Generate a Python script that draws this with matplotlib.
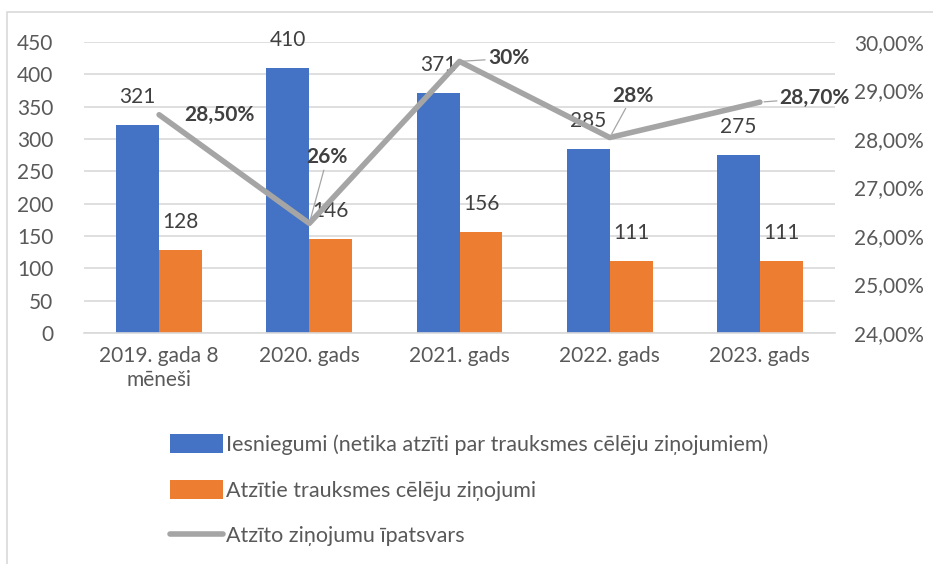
import numpy as np
import matplotlib
matplotlib.use('Agg')
import matplotlib.pyplot as plt
from matplotlib.patches import Rectangle

plt.rcParams['font.family'] = ['Lato', 'DejaVu Sans']

# --- data ---
categories = ['2019. gada 8\nmēneši', '2020. gads', '2021. gads', '2022. gads', '2023. gads']
iesniegumi = [321, 410, 371, 285, 275]
atzitie = [128, 146, 156, 111, 111]
ipatsvars = [0.285, 0.2626, 0.296, 0.2803, 0.2876]
ipatsvars_labels = ['28,50%', '26%', '30%', '28%', '28,70%']
# where each percentage label sits relative to its point (pixels)
label_offsets = [(60, 0), (18, 66), (49, 3), (23, 42), (55, 4)]
show_leader = [False, True, True, True, True]

BLUE = '#4472C4'
ORANGE = '#ED7D31'
GREY = '#A5A5A5'
TXT = '#595959'
LBL = '#404040'
FS = 15

fig = plt.figure(figsize=(9.33, 5.64), dpi=100)
ax = fig.add_axes([84/933, 1 - 333/564, (835 - 84)/933, (333 - 42)/564])
ax2 = ax.twinx()

x = np.arange(len(categories))
w = 0.286
b1 = ax.bar(x - w/2, iesniegumi, w, color=BLUE, label='Iesniegumi (netika atzīti par trauksmes cēlēju ziņojumiem)', zorder=2)
b2 = ax.bar(x + w/2, atzitie, w, color=ORANGE, label='Atzītie trauksmes cēlēju ziņojumi', zorder=2)

for bars, vals in ((b1, iesniegumi), (b2, atzitie)):
    for r, v in zip(bars, vals):
        ax.annotate(str(v), (r.get_x() + r.get_width()/2, v), xytext=(0, 28),
                    textcoords='offset pixels', ha='center', va='center',
                    fontsize=FS, color=LBL)

ax.set_xlim(-0.5, len(categories) - 0.5)
ax.set_ylim(0, 450)
ax.set_yticks(np.arange(0, 451, 50))
ax.set_xticks(x)
ax.set_xticklabels(categories, fontsize=FS, color=TXT, linespacing=1.25)
ax.tick_params(axis='y', labelsize=FS, colors=TXT, length=0, pad=22)
ax.tick_params(axis='x', length=0, pad=9)
ax.grid(axis='y', color='#D9D9D9', lw=1.2, zorder=0)
ax.set_axisbelow(True)
for s in ['top', 'right', 'left']:
    ax.spines[s].set_visible(False)
ax.spines['bottom'].set_color('#D9D9D9')
ax.spines['bottom'].set_linewidth(1.2)

ln, = ax2.plot(x, ipatsvars, color=GREY, lw=4.0, solid_capstyle='round',
               solid_joinstyle='round', label='Atzīto ziņojumu īpatsvars', zorder=3)
ax2.set_ylim(0.24, 0.30)
ticks2 = np.arange(0.24, 0.3001, 0.01)
ax2.set_yticks(ticks2)
ax2.set_yticklabels([('%.2f%%' % (t*100)).replace('.', ',') for t in ticks2])
ax2.tick_params(axis='y', labelsize=FS, colors=TXT, length=0, pad=14)
for s in ax2.spines.values():
    s.set_visible(False)

for xi, yi, lab, off, lead in zip(x, ipatsvars, ipatsvars_labels, label_offsets, show_leader):
    ap = dict(arrowstyle='-', color=GREY, lw=0.9, shrinkA=0, shrinkB=3) if lead else None
    ax2.annotate(lab, (xi, yi), xytext=off, textcoords='offset pixels',
                 ha='center', va='center', fontsize=FS, fontweight='bold',
                 color=LBL, arrowprops=ap, zorder=4)

fig.legend(handles=[b1, b2, ln], loc='upper left', bbox_to_anchor=(159/933, 1 - 423/564),
           frameon=False, fontsize=15.5, labelcolor=TXT, handlelength=2.45,
           handleheight=1.0, handletextpad=0.15, labelspacing=1.15, borderpad=0)

fig.patches.append(Rectangle((7/933, -0.1), 1.2, 1 - 12/564 + 0.1, transform=fig.transFigure,
                             fill=False, edgecolor='#D9D9D9', lw=1.2))

fig.savefig('out.png', dpi=100)
